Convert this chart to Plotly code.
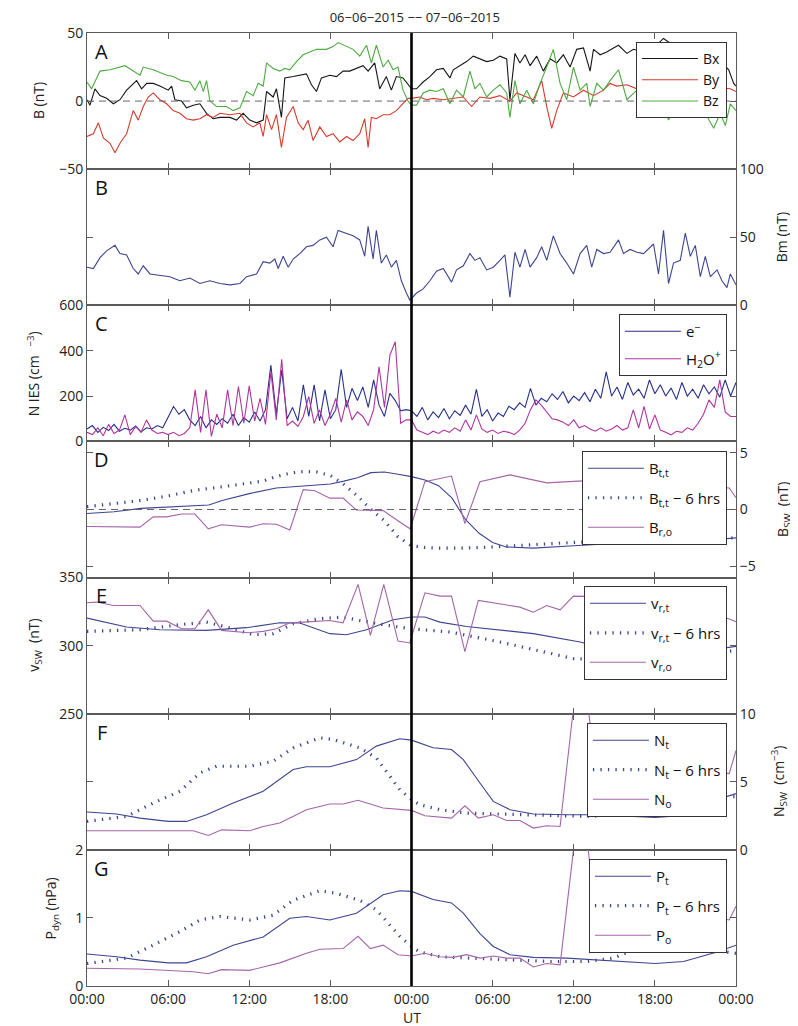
import plotly.graph_objects as go
from plotly.subplots import make_subplots

# ---------------- DATA ----------------
hour_ticks = [0, 6, 12, 18, 24, 30, 36, 42, 48]
hour_labels = ["00:00", "06:00", "12:00", "18:00", "00:00", "06:00", "12:00", "18:00", "00:00"]
day_split = 24

# Panel A: magnetic field components (nT)
bx_t = [0,0.22,0.59,0.96,1.45,1.95,2.44,2.93,3.67,4.04,4.41,4.90,5.39,6.01,6.26,6.50,7.0,7.36,7.86,8.35,
        8.84,9.33,9.83,10.57,11.06,11.55,12.04,12.54,13.03,13.28,13.77,14.01,14.38,14.63,15.25,15.74,16.23,16.60,16.97,17.34,
        17.96,18.45,18.94,19.43,19.93,20.42,20.79,21.28,21.65,22.14,22.51,22.88,23.37,23.74,24.0,
        24.37,24.86,25.36,25.85,26.35,26.84,27.09,27.58,28.07,28.57,29.06,29.56,30.05,30.54,31.04,31.28,31.65,32.02,32.40,32.77,
        33.26,33.75,34.25,34.74,35.23,35.73,36.22,36.72,37.21,37.46,37.95,38.44,38.94,39.31,39.93,40.42,41.2,42.0,42.64,43.5,
        44.5,45.5,46.5,47.46,47.83,48.0]
bx_v = [1,-3,9,4,2,-2,1,8,15,9,13,13,11,8,11,1,0,-5,-3,-2,
        -9,-13,-12,-12,-14,-9,-14,-16,-14,7,3,9,-12,17,18,19,20,12,7,17,
        19,18,22,22,24,26,22,28,9,18,8,18,17,12,9,
        9,14,18,23,24,17,23,26,29,33,31,29,30,33,31,1,35,28,34,26,
        33,22,31,28,34,25,38,39,22,38,34,36,39,41,35,38,36,40,46,40,
        38,36,33,23,13,11]
by_t = [0,0.47,0.84,1.21,1.70,2.07,2.44,2.93,3.42,3.79,4.16,4.53,4.90,5.39,5.89,6.38,6.87,7.36,7.86,8.35,
        8.84,9.33,9.83,10.57,11.31,11.80,12.29,12.78,13.03,13.28,13.65,14.01,14.38,14.75,15.25,15.62,15.99,16.35,16.72,17.22,
        17.71,18.20,18.69,19.19,19.68,20.17,20.54,20.79,21.03,21.40,21.90,22.39,22.88,23.37,23.74,24.0,
        24.62,25.11,25.60,26.35,27.09,27.83,28.44,29.06,29.80,30.54,31.28,31.78,32.52,33.01,33.63,
        34.0,34.37,34.74,35.23,35.98,36.72,37.46,38.20,38.69,39.19,39.93,40.67,41.5,42.5,43.5,44.5,45.5,46.5,47.58,48.0]
by_v = [-26,-24,-16,-27,-31,-38,-31,-24,-7,-14,-4,3,6,1,-2,-7,-9,-13,-14,-13,
        -10,-12,-9,-10,-9,-16,-19,-16,-26,-10,-21,-10,-34,-12,-4,-16,-21,-14,-29,-19,
        -26,-24,-30,-26,-29,-24,-13,-34,-12,-13,-10,-10,-7,-2,2,2,
        3,1,2,1,2,3,-4,3,2,4,0,6,3,1,15,
        -4,-20,-7,6,3,8,4,8,13,11,12,9,10,8,10,9,11,10,9,7]
bz_t = [0,0.34,0.96,1.70,2.81,3.42,3.92,4.16,4.90,5.89,6.38,6.99,7.61,7.98,8.35,8.60,8.84,9.09,9.58,10.32,
        10.81,11.31,11.80,12.29,12.66,13.03,13.28,13.77,14.26,14.63,15.0,15.49,15.99,16.48,16.97,17.71,18.20,18.57,19.19,19.68,
        20.17,20.67,21.03,21.40,21.90,22.27,22.64,23.0,23.37,23.74,24.0,
        24.37,24.86,25.36,25.85,26.35,26.84,27.33,27.83,28.32,28.69,29.06,29.56,30.05,30.54,31.04,31.28,31.65,32.02,32.52,33.01,
        33.51,34.0,34.49,34.99,35.48,35.98,36.47,36.96,37.21,37.70,38.20,38.69,39.31,39.93,40.67,41.5,42.3,43.01,43.8,44.86,
        45.60,46.35,46.84,47.21,47.58,48.0]
bz_v = [14,9,22,23,26,22,19,25,23,19,18,15,14,8,15,7,15,0,-4,-4,
        -7,-5,7,4,13,11,28,24,22,24,23,29,34,36,38,38,40,43,40,38,
        33,41,28,41,25,30,23,25,8,0,-3,
        -3,6,8,7,9,-2,8,3,22,9,13,3,8,12,6,-12,15,-2,8,-2,
        13,25,38,13,1,25,8,13,-4,13,8,15,23,1,8,5,10,-14,5,3,
        -7,-20,-9,-18,-2,-7]

# Panel B: field magnitude (nT)
bm_t = [0,0.47,0.96,1.45,2.07,2.44,2.93,3.42,3.79,4.16,4.66,5.39,6.13,6.87,7.61,8.35,9.09,9.83,10.57,11.31,
        11.80,12.54,13.03,13.52,13.89,14.14,14.51,14.88,15.25,15.74,16.23,16.72,17.22,17.71,18.20,18.57,19.19,19.68,20.17,20.54,
        20.79,21.16,21.40,21.77,22.14,22.51,22.88,23.25,23.62,23.87,24.0,
        24.37,24.86,25.36,25.85,26.35,26.96,27.33,27.83,28.32,28.69,29.06,29.56,30.05,30.54,30.91,31.28,31.65,32.02,32.40,32.77,
        33.26,33.63,34.0,34.49,34.99,35.48,35.98,36.47,36.96,37.33,37.70,38.20,38.69,39.31,39.68,40.17,40.67,41.16,41.90,42.27,
        42.64,43.01,43.38,43.88,44.25,44.62,44.99,45.36,45.73,46.10,46.60,46.96,47.33,47.58,48.0]
bm_v = [28,27,35,40,44,38,37,27,23,29,23,22,21,18,20,16,18,16,15,16,
        21,23,32,31,34,27,36,28,34,38,43,44,48,50,43,55,53,51,48,36,
        58,34,55,31,37,28,33,18,9,4,5,
        9,12,18,25,27,17,26,29,38,33,35,26,28,33,37,6,39,28,41,28,
        35,43,33,51,38,31,23,38,44,28,41,38,39,48,38,41,39,38,45,23,
        55,16,31,33,53,36,44,21,36,21,26,18,13,23,15]

# Panel C: IES densities (cm^-3), sampled every 0.4 h
ies_t = [round(0.4 * i, 1) for i in range(121)]
elec_v = [55,70,40,62,48,75,45,58,50,68,42,60,55,
          70,60,110,154,120,140,95,
          70,110,60,95,75,100,80,120,70,105,
          85,130,90,140,336,120,315,100,150,90,
          249,110,249,90,227,100,140,318,150,234,
          180,240,150,271,160,110,212,180,135,140,135,
          110,150,95,130,105,145,100,135,115,160,
          120,230,110,140,90,125,110,155,140,170,
          150,234,160,190,175,210,185,220,170,200,
          180,215,175,230,190,307,200,240,185,260,
          205,230,190,271,210,250,200,235,185,260,
          200,230,190,250,210,240,195,271,200,260]
h2o_v = [40,30,60,25,75,35,50,117,30,65,40,95,50,
         35,40,30,40,25,35,60,
         227,40,227,22,120,60,227,70,242,80,
         245,90,190,75,307,95,362,70,90,66,
         110,198,80,139,70,120,190,85,183,95,
         130,110,70,140,329,150,380,439,80,95,95,
         50,40,30,45,35,50,40,60,45,95,
         50,117,55,40,50,35,45,40,30,50,
         80,140,183,160,130,100,95,85,70,95,
         60,70,55,45,60,45,55,70,50,60,
         139,60,154,55,117,50,40,29,45,40,
         60,50,80,120,183,150,271,130,110,110]

# Panel D: solar-wind B (nT)
btt_t = [0,2,4,6,8,9,10,12,14,16,18,19,20,21,22,23,24,25,26,27,28,29,30,31,33,36,39,42,45,48]
btt_v = [-0.35,-0.2,0.1,0.2,0.3,0.4,0.8,1.4,1.9,2.1,2.25,2.5,2.8,3.25,3.3,3.1,2.9,2.6,2.1,1.0,
         -0.9,-2.1,-2.9,-3.3,-3.4,-3.2,-3.0,-2.9,-2.8,-2.5]
btt6_t = [0,2,4,6,8,10,12,13,14,15,16,17,18,19,20,21,22,23,24,25,26,28,30,33,36,39,42,45,48]
btt6_v = [0.25,0.5,0.8,1.2,1.7,2.0,2.3,2.5,2.9,3.2,3.35,3.3,3.0,2.2,1.2,0.0,-1.0,-2.4,-3.2,-3.35,
          -3.4,-3.4,-3.3,-3.1,-2.9,-2.8,-2.7,-2.6,-2.5]
bro_t = [0,3.92,4.90,5.89,7.0,7.98,8.97,9.95,12.04,13.03,14.01,15.0,15.99,16.85,17.96,18.94,19.93,21.90,23.13,23.9,
         24.99,26.96,27.95,29.06,31.28,34.0,36.35,38,40,42,44,46,47.5,48]
bro_v = [-1.5,-1.55,-0.65,-0.65,-0.4,-0.4,-1.7,-1.35,-1.55,-1.25,-1.3,-1.8,1.75,1.65,1.0,1.0,-0.05,-0.1,-1.1,-1.7,
         2.45,2.95,-1.25,2.45,3.05,2.35,2.5,2.6,2.3,2.5,2.2,2.0,1.9,1.05]

# Panel E: solar-wind speed
vrt_t = [0,2.93,5.39,8.84,11.8,14.26,15.74,17.96,19.19,20.67,22.64,24,24.99,26.1,28.07,30.54,33.01,36.47,39,42,45,48]
vrt_v = [320.2,313.7,311.7,311.2,313.2,316.8,316.6,308.8,308,311.7,319,321,321,317.3,314.1,311.7,308.8,302.7,296,291,295,299.5]
vrt6_t = [0,3.92,6.87,8.84,10.32,12.29,13.77,15.25,17.22,18.94,20.17,21.90,24,26.84,30.54,35.98,40,44,48]
vrt6_v = [310.5,311.7,315.4,317.3,313.7,308,308.8,316.1,319.8,321,318.5,315.4,312.4,310,302.7,290.5,289,292,296.5]
vro_t = [0,0.71,1.95,3.92,4.90,5.89,7.0,7.98,8.97,9.95,11.92,13.03,14.01,15.0,15.99,17.96,18.94,20.05,20.96,21.95,
         23.0,23.87,24.99,26.1,26.96,27.95,28.94,31.04,32.02,33.01,34.0,34.99,35.98,38,40,42,44,46,47.5,48]
vro_v = [331.5,332,329.5,329.5,318,318,312.4,312.4,326.3,311.2,309.5,310.5,312.4,316.8,317.3,318.5,316.8,345,307.6,345,
         303.4,302,338.8,336.4,336.4,295.6,333.2,329.5,328.3,324.6,329.5,326.3,336.4,336,334,332,328,324,319.5,317.5]

# Panel F: solar-wind density (cm^-3)
nt_t = [0,2.19,3.92,6.01,7.36,8.84,10.81,13.03,15.25,16.23,17.96,19.93,21.40,23.13,24,25.6,26.96,27.83,29.06,30.05,
        31.28,33.01,35.48,37.95,40.42,42.02,44.12,45.36,46.6,48]
nt_v = [2.78,2.63,2.33,2.09,2.09,2.58,3.44,4.3,5.9,6.1,6.1,6.63,7.62,8.16,8.06,7.5,7.37,6.63,4.91,3.56,
        2.95,2.63,2.58,2.58,2.46,2.38,2.53,3.19,3.69,4.13]
nt6_t = [0,2.93,4.90,6.87,8.35,9.58,12.04,13.77,15.25,17.22,18.20,20.17,21.40,23.13,24,24.6,26.1,28.07,30.54,34.25,
         36.96,38,40,42,45,48]
nt6_v = [2.09,2.46,3.44,4.3,5.65,6.14,6.14,6.51,7.49,8.23,8.11,7.49,6.76,4.42,3.7,3.32,2.95,2.7,2.63,2.5,
         2.46,2.5,3.3,4.1,4.0,3.9]
no_t = [0,7.86,8.97,9.95,12.04,13.03,14.26,16.23,17.96,18.94,20.05,21.90,24,24.99,26.96,27.95,28.94,30.05,31.04,32.02,
        33.01,34.0,34.99,35.98,36.5,37.3,40,44,47.5,48]
no_v = [1.4,1.4,1.06,1.47,1.4,1.72,1.97,2.95,3.37,3.37,3.64,3.07,2.9,2.5,2.33,3.24,2.33,2.58,2.16,2.16,
        1.6,1.77,1.72,10.3,15,8.5,7,6,5.6,7.3]

# Panel G: dynamic pressure (nPa)
pt_t = [0,2.19,3.92,6.01,7.36,8.84,10.81,13.03,15.0,16.23,17.96,19.93,21.9,23.13,24,25.6,26.96,27.83,29.06,30.05,
        31.28,33.01,35.48,37.95,40.42,42.02,44.12,45.36,46.6,48]
pt_v = [0.47,0.43,0.38,0.34,0.34,0.43,0.6,0.72,0.995,1.02,0.97,1.07,1.34,1.40,1.39,1.27,1.22,1.07,0.77,0.58,
        0.46,0.42,0.41,0.38,0.34,0.33,0.36,0.43,0.5,0.6]
pt6_t = [0,2.93,4.90,6.87,8.35,9.83,12.04,13.77,15.25,17.22,18.45,20.17,21.40,23.13,24,24.62,26.1,28.07,30.54,34.25,
         36.96,38.94,40.42,42,45,48]
pt6_v = [0.33,0.41,0.6,0.8,0.97,1.02,0.97,1.04,1.26,1.40,1.36,1.26,1.12,0.73,0.58,0.5,0.43,0.41,0.39,0.36,
         0.36,0.41,0.53,0.62,0.56,0.48]
po_t = [0,3.92,7.86,8.97,9.95,12.04,13.03,14.26,16.23,17.22,18.94,20.05,20.96,21.90,23.0,24,24.99,26.1,27.09,28.07,
        29.06,30.05,31.04,32.02,33.01,34.0,34.99,35.98,36.5,37.3,40,44,47.5,48]
po_v = [0.26,0.25,0.21,0.18,0.24,0.23,0.28,0.34,0.48,0.54,0.55,0.73,0.55,0.6,0.46,0.44,0.48,0.43,0.42,0.46,
        0.41,0.44,0.41,0.41,0.28,0.33,0.31,2.0,3.0,1.6,1.3,1.1,0.97,1.17]

# ---------------- STYLE ----------------
FONT = "Open Sans"
C_BX, C_BY, C_BZ = "#161616", "#d53c2e", "#4eab40"
C_E, C_H = "#28308a", "#b0359f"
C_MOD, C_OBS = "#3d4590", "#a465a9"
AX = "#5a5a5a"
DOT = "1.3px,6.2px"

fig = make_subplots(rows=7, cols=1, shared_xaxes=True, vertical_spacing=0)

def line(x, y, name, color, row, legend, dotted=False, width=1.1, show=True):
    fig.add_trace(go.Scatter(
        x=x, y=y, mode="lines", name=name, legend=legend, showlegend=show,
        legendgroup=name, line=dict(color=color, width=3.2 if dotted else width,
                                    dash=DOT if dotted else "solid"),
        hoverinfo="skip"), row=row, col=1)

line(bx_t, bx_v, "Bx", C_BX, 1, "legend")
line(by_t, by_v, "By", C_BY, 1, "legend")
line(bz_t, bz_v, "Bz", C_BZ, 1, "legend")
line(bm_t, bm_v, "Bm", C_MOD, 2, "legend", show=False)
line(ies_t, elec_v, "e<sup>−</sup>", C_E, 3, "legend2")
line(ies_t, h2o_v, "H<sub>2</sub>O<sup>+</sup>", C_H, 3, "legend2")
line(btt_t, btt_v, "B<sub>t,t</sub>", C_MOD, 4, "legend3")
line(btt6_t, btt6_v, "B<sub>t,t</sub> − 6 hrs", C_MOD, 4, "legend3", dotted=True)
line(bro_t, bro_v, "B<sub>r,o</sub>", C_OBS, 4, "legend3")
line(vrt_t, vrt_v, "v<sub>r,t</sub>", C_MOD, 5, "legend4")
line(vrt6_t, vrt6_v, "v<sub>r,t</sub> − 6 hrs", C_MOD, 5, "legend4", dotted=True)
line(vro_t, vro_v, "v<sub>r,o</sub>", C_OBS, 5, "legend4")
line(nt_t, nt_v, "N<sub>t</sub>", C_MOD, 6, "legend5")
line(nt6_t, nt6_v, "N<sub>t</sub> − 6 hrs", C_MOD, 6, "legend5", dotted=True)
line(no_t, no_v, "N<sub>o</sub>", C_OBS, 6, "legend5")
line(pt_t, pt_v, "P<sub>t</sub>", C_MOD, 7, "legend6")
line(pt6_t, pt6_v, "P<sub>t</sub> − 6 hrs", C_MOD, 7, "legend6", dotted=True)
line(po_t, po_v, "P<sub>o</sub>", C_OBS, 7, "legend6")

# zero reference lines
for r in (1, 4):
    fig.add_hline(y=0, row=r, col=1, line=dict(color="#666666", width=1, dash="7px,5px"))

# vertical day separator
fig.add_shape(type="line", xref="x7", yref="paper", x0=day_split, x1=day_split, y0=0, y1=1,
              line=dict(color="black", width=2.6))

# axes
for r in range(1, 8):
    fig.update_xaxes(row=r, col=1, range=[0, 48], tickvals=hour_ticks, ticktext=hour_labels,
                     ticks="inside", ticklen=6, tickcolor=AX, tickwidth=1.2,
                     showline=True, linecolor=AX, linewidth=1, mirror="ticks",
                     showgrid=False, zeroline=False, showticklabels=(r == 7))

yspecs = [
    (1, [-50, 50], [-50, 0, 50], "left", "B (nT)", -0.0755, 0.5),
    (2, [0, 100], [0, 50, 100], "right", "Bm (nT)", 1.0693, 0.5),
    (3, [0, 600], [0, 200, 400, 600], "left", "N IES (cm <sup>  −3</sup>)", -0.0817, 0.5),
    (4, [-6, 6], [-5, 0, 5], "right", "B<sub>SW</sub>  (nT)", 1.073, 0.5),
    (5, [250, 350], [250, 300, 350], "left", "v<sub>SW</sub>  (nT)", -0.0801, 0.5),
    (6, [0, 10], [0, 5, 10], "right", "N<sub>SW</sub>  (cm<sup>−3</sup>)", 1.0665, 0.5),
    (7, [0, 2], [0, 1, 2], "left", "P<sub>dyn</sub> (nPa)", -0.0555, 0.57),
]
for r, rng, tv, side, title, tx, ty in yspecs:
    fig.update_yaxes(row=r, col=1, range=rng, tickvals=tv, side=side,
                     ticks="inside", ticklen=6, tickcolor=AX, tickwidth=1.2,
                     showline=True, linecolor=AX, linewidth=1, mirror="ticks",
                     showgrid=False, zeroline=False)
    yname = "y" if r == 1 else f"y{r}"
    fig.add_annotation(text=title, xref="paper", yref=f"{yname} domain",
                       x=tx, y=ty, xanchor="center", yanchor="middle", textangle=-90,
                       showarrow=False, font=dict(family=FONT, size=14, color="#222"))
    fig.add_annotation(text="ABCDEFG"[r - 1], xref="paper", yref=f"{yname} domain",
                       x=0.023, y=0.865, xanchor="center", yanchor="middle", showarrow=False,
                       font=dict(family=FONT, size=20, color="#111"))

fig.add_annotation(text="UT", xref="paper", yref="paper", x=0.5, y=-0.0328,
                   xanchor="center", yanchor="middle", showarrow=False,
                   font=dict(family=FONT, size=14, color="#222"))

leg_common = dict(xanchor="right", yanchor="top", x=0.986, bgcolor="white",
                  bordercolor="#333333", borderwidth=1, itemwidth=56)
fig.update_layout(
    legend=dict(y=0.9906, tracegroupgap=0, font=dict(family=FONT, size=14, color="#111"), **leg_common),
    legend2=dict(y=0.7051, tracegroupgap=5, font=dict(family=FONT, size=15, color="#111"), **leg_common),
    legend3=dict(y=0.5614, tracegroupgap=7, font=dict(family=FONT, size=15, color="#111"), **leg_common),
    legend4=dict(y=0.4197, tracegroupgap=7, font=dict(family=FONT, size=15, color="#111"), **leg_common),
    legend5=dict(y=0.2760, tracegroupgap=7, font=dict(family=FONT, size=15, color="#111"), **leg_common),
    legend6=dict(y=0.1333, tracegroupgap=7, font=dict(family=FONT, size=15, color="#111"), **leg_common),
)

# the page body adds an 8px offset; the figure is sized so the plot area lands at x 87-736, y 33-986
fig.update_layout(
    width=790, height=1018,
    margin=dict(l=79, r=62, t=25, b=40),
    paper_bgcolor="white", plot_bgcolor="white",
    font=dict(family=FONT, size=14, color="#222"),
    title=dict(text="06−06−2015 −− 07−06−2015", x=0.515, xanchor="center", y=0.991, yanchor="middle",
               font=dict(family=FONT, size=13, color="#222")),
)

fig.write_html("out.html")
